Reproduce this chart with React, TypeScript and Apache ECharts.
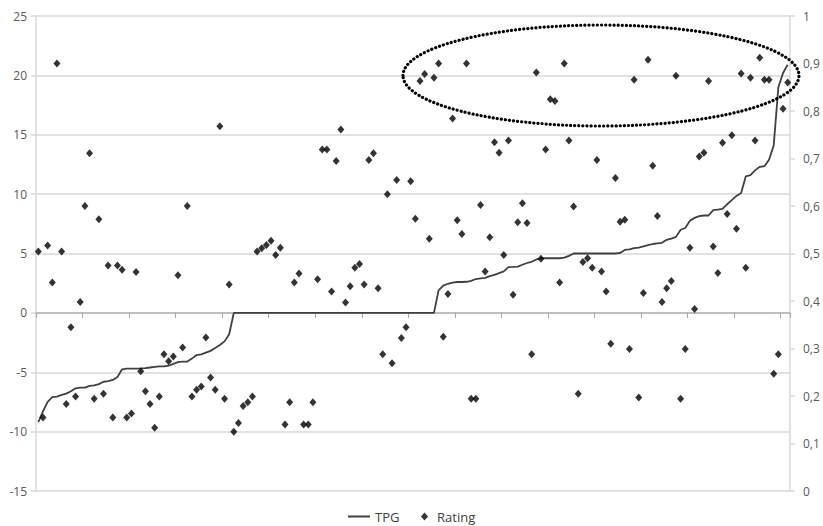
import React, { useEffect, useRef } from 'react';
import * as echarts from 'echarts';

// Category index (one per observation, sorted by TPG)
const categories: string[] = [];
for (let i = 1; i <= 162; i++) categories.push(String(i));

// TPG values (left axis)
const tpgValues = [
  -9.2, -8.3, -7.5, -7.1, -7.05, -6.9, -6.8, -6.6, -6.35, -6.3,
  -6.3, -6.15, -6.1, -6.0, -5.8, -5.75, -5.65, -5.4, -4.75, -4.7,
  -4.7, -4.7, -4.68, -4.65, -4.6, -4.55, -4.5, -4.5, -4.45, -4.3,
  -4.15, -4.1, -4.1, -3.85, -3.55, -3.5, -3.35, -3.2, -2.95, -2.7,
  -2.4, -1.8,
  0, 0, 0, 0, 0, 0, 0, 0, 0, 0,
  0, 0, 0, 0, 0, 0, 0, 0, 0, 0,
  0, 0, 0, 0, 0, 0, 0, 0, 0, 0,
  0, 0, 0, 0, 0, 0, 0, 0, 0, 0,
  0, 0, 0, 0,
  1.9, 2.3, 2.45, 2.55, 2.6, 2.6, 2.62, 2.7, 2.85, 2.9,
  2.95, 3.1, 3.2, 3.35, 3.5, 3.85, 3.87, 3.9, 4.05, 4.2,
  4.3, 4.5, 4.6, 4.6, 4.6, 4.6, 4.6, 4.65, 4.8, 5.0,
  5.0, 5.0, 5.0, 5.0, 5.0, 5.0, 5.0, 5.0, 5.0, 5.05,
  5.3, 5.35, 5.45, 5.5, 5.6, 5.7, 5.8, 5.85, 5.9, 6.15,
  6.25, 6.4, 7.0, 7.15, 7.75, 8.0, 8.15, 8.2, 8.2, 8.65,
  8.7, 8.75, 9.15, 9.5, 9.85, 10.1, 11.5, 11.6, 12.0, 12.3,
  12.35, 12.9, 14.1, 19.0, 20.2, 20.9,
];

// Rating values (right axis)
const ratingValues = [
  0.504, 0.155, 0.517, 0.439, 0.900, 0.504, 0.183, 0.345, 0.199, 0.398,
  0.600, 0.711, 0.194, 0.572, 0.205, 0.475, 0.155, 0.475, 0.466, 0.155,
  0.163, 0.461, 0.252, 0.210, 0.183, 0.133, 0.199, 0.288, 0.273, 0.283,
  0.454, 0.302, 0.600, 0.199, 0.213, 0.220, 0.323, 0.239, 0.213, 0.768,
  0.194, 0.435, 0.125, 0.143, 0.179, 0.187, 0.199, 0.504, 0.511, 0.518,
  0.527, 0.497, 0.512, 0.140, 0.187, 0.439, 0.458, 0.140, 0.140, 0.187,
  0.446, 0.719, 0.719, 0.420, 0.695, 0.761, 0.397, 0.431, 0.470, 0.478,
  0.435, 0.697, 0.711, 0.427, 0.288, 0.625, 0.269, 0.655, 0.322, 0.345,
  0.652, 0.573, 0.863, 0.878, 0.531, 0.870, 0.900, 0.325, 0.415, 0.784,
  0.570, 0.541, 0.900, 0.194, 0.194, 0.602, 0.462, 0.534, 0.734, 0.712,
  0.497, 0.738, 0.413, 0.566, 0.606, 0.564, 0.288, 0.881, 0.489, 0.719,
  0.825, 0.821, 0.439, 0.900, 0.738, 0.599, 0.205, 0.482, 0.490, 0.470,
  0.697, 0.462, 0.420, 0.310, 0.659, 0.567, 0.571, 0.299, 0.866, 0.197,
  0.417, 0.908, 0.685, 0.579, 0.398, 0.427, 0.442, 0.874, 0.194, 0.299,
  0.512, 0.383, 0.704, 0.712, 0.863, 0.515, 0.459, 0.733, 0.583, 0.749,
  0.552, 0.879, 0.470, 0.870, 0.738, 0.912, 0.866, 0.866, 0.247, 0.288,
  0.805, 0.860,
];

const leftAxisMin = -15;
const leftAxisMax = 25;
const leftAxisStep = 5;
const rightAxisMin = 0;
const rightAxisMax = 1;
const rightAxisStep = 0.1;

const seriesNames = ['TPG', 'Rating'];

const FONT = 'Open Sans';
const GRID = '#d9d9d9';

export default function App() {
  const ref = useRef<HTMLDivElement>(null);

  useEffect(() => {
    const chart = echarts.init(ref.current!, null, { renderer: 'svg' });
    chart.setOption({
      animation: false,
      backgroundColor: '#ffffff',
      textStyle: { fontFamily: FONT },
      grid: { left: 36, right: 33, top: 16, bottom: 35 },
      xAxis: {
        type: 'category',
        data: categories,
        boundaryGap: true,
        axisLine: { show: true, onZero: true, lineStyle: { color: '#b3b3b3', width: 1.5 } },
        axisTick: { show: true, interval: 9, length: 5, lineStyle: { color: '#a6a6a6', width: 1 } },
        axisLabel: { show: false },
        splitLine: { show: false },
      },
      yAxis: [
        {
          type: 'value',
          min: leftAxisMin,
          max: leftAxisMax,
          interval: leftAxisStep,
          position: 'left',
          axisLine: { show: true, lineStyle: { color: GRID, width: 1.5 } },
          axisTick: { show: true, length: 5, lineStyle: { color: GRID, width: 1.5 } },
          axisLabel: { color: '#595959', fontSize: 12, margin: 9, fontFamily: FONT },
          splitLine: { show: true, lineStyle: { color: GRID, width: 1.5 } },
        },
        {
          type: 'value',
          min: rightAxisMin,
          max: rightAxisMax,
          interval: rightAxisStep,
          position: 'right',
          axisLine: { show: true, lineStyle: { color: GRID, width: 1.5 } },
          axisTick: { show: true, length: 5, lineStyle: { color: GRID, width: 1.5 } },
          axisLabel: {
            color: '#595959',
            fontSize: 12,
            margin: 13,
            fontFamily: FONT,
            formatter: (v: number) => String(Math.round(v * 10) / 10).replace('.', ','),
          },
          splitLine: { show: false },
        },
      ],
      legend: [
        {
          data: [{ name: seriesNames[0], icon: 'rect' }],
          left: 348,
          top: 510,
          padding: 0,
          itemWidth: 22,
          itemHeight: 2,
          itemGap: 0,
          selectedMode: false,
          itemStyle: { color: '#404040' },
          textStyle: { fontSize: 13, color: '#404040', fontFamily: FONT, padding: [0, 0, 0, 0] },
        },
        {
          data: [seriesNames[1]],
          left: 421,
          top: 510,
          padding: 0,
          itemWidth: 7,
          itemHeight: 8,
          itemGap: 0,
          selectedMode: false,
          textStyle: { fontSize: 13, color: '#404040', fontFamily: FONT, padding: [0, 0, 0, 4] },
        },
      ],
      series: [
        {
          name: seriesNames[0],
          type: 'line',
          data: tpgValues,
          yAxisIndex: 0,
          symbol: 'none',
          lineStyle: { color: '#404040', width: 1.8 },
          itemStyle: { color: '#404040' },
          z: 2,
        },
        {
          name: seriesNames[1],
          type: 'scatter',
          data: ratingValues,
          yAxisIndex: 1,
          symbol: 'diamond',
          symbolSize: [7, 8],
          itemStyle: { color: '#000000' },
          z: 3,
        },
      ],
      graphic: [
        {
          type: 'ellipse',
          shape: { cx: 601, cy: 75.5, rx: 198, ry: 50.5 },
          style: {
            fill: 'none',
            stroke: '#000000',
            lineWidth: 3.2,
            lineDash: [0.1, 4],
            lineCap: 'round',
          },
          z: 100,
        },
      ],
    });
    return () => chart.dispose();
  }, []);

  return (
    <div
      ref={ref}
      style={{ position: 'absolute', left: 0, top: 0, width: 823, height: 526, background: '#fff' }}
    />
  );
}
